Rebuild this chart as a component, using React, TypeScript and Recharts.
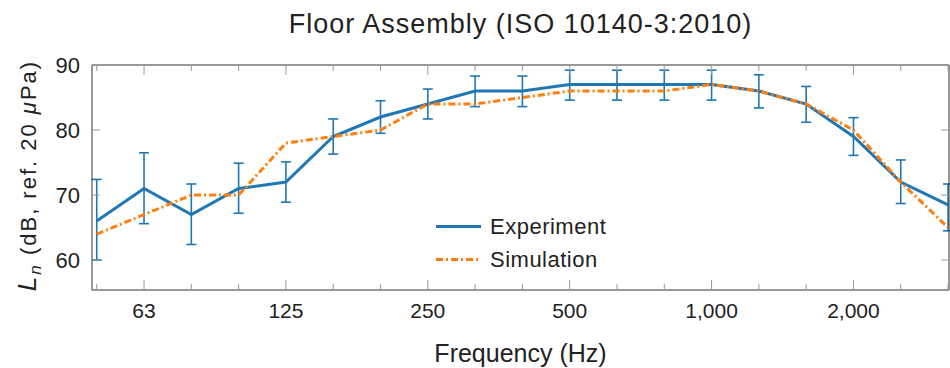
import { LineChart, Line, XAxis, YAxis, ErrorBar, Legend, Label } from "recharts";

// one-third octave bands, 50 Hz .. 3150 Hz (plotted by band index)
const bandLabels = ["50", "63", "80", "100", "125", "160", "200", "250", "315", "400", "500", "630", "800", "1,000", "1,250", "1,600", "2,000", "2,500", "3,150"];
const majorBands = [1, 4, 7, 10, 13, 16];

const experiment = [66, 71, 67, 71, 72, 79, 82, 84, 86, 86, 87, 87, 87, 87, 86, 84, 79, 72, 68.5];
const expLower = [60, 65.6, 62.4, 67.2, 68.9, 76.3, 79.5, 81.7, 83.6, 83.6, 84.6, 84.6, 84.6, 84.6, 83.4, 81.2, 76.1, 68.7, 64.5];
const expUpper = [72.4, 76.5, 71.7, 74.9, 75.1, 81.7, 84.5, 86.3, 88.3, 88.3, 89.2, 89.2, 89.2, 89.2, 88.5, 86.7, 81.9, 75.4, 71.7];
const simulation = [64, 67, 70, 70, 78, 79, 80, 84, 84, 85, 86, 86, 86, 87, 86, 84, 80, 72, 65];
const yTicks = [60, 70, 80, 90];

const data = bandLabels.map((label, i) => ({
  band: i,
  label,
  experiment: experiment[i],
  err: [experiment[i] - expLower[i], expUpper[i] - experiment[i]],
  simulation: simulation[i],
}));

const FONT = "'Liberation Sans', Arial, sans-serif";
const TEXT = "#222";
const FRAME = "#333";
const TICK = "#999";
const BLUE = "#1f77b4";
const ORANGE = "#ff7f0e";
const SIM_DASH = "7 3 2 3";

const bottomTick = (props: any) => {
  const { x, y, payload } = props;
  const major = majorBands.includes(payload.value);
  return (
    <g>
      <line x1={x} x2={x} y1={y} y2={y - (major ? 10 : 6)} stroke={TICK} />
      {major && (
        <text x={x} y={y + 28} textAnchor="middle" fontFamily={FONT} fontSize={21} fill={TEXT}>
          {bandLabels[payload.value]}
        </text>
      )}
    </g>
  );
};

const topTick = (props: any) => {
  const { x, y, payload } = props;
  const major = majorBands.includes(payload.value);
  return <line x1={x} x2={x} y1={y} y2={y + (major ? 10 : 6)} stroke={TICK} />;
};

const leftTick = (props: any) => {
  const { x, y, payload } = props;
  return (
    <g>
      <line x1={x} x2={x + 8} y1={y} y2={y} stroke={TICK} />
      <text x={x - 12} y={y + 8} textAnchor="end" fontFamily={FONT} fontSize={22} fill={TEXT}>
        {payload.value}
      </text>
    </g>
  );
};

const rightTick = (props: any) => {
  const { x, y } = props;
  return <line x1={x} x2={x - 8} y1={y} y2={y} stroke={TICK} />;
};

const renderLegend = () => (
  <div style={{ fontFamily: FONT, fontSize: 22, color: TEXT, textAlign: "left" }}>
    {[
      { name: "Experiment", color: BLUE, dash: undefined },
      { name: "Simulation", color: ORANGE, dash: SIM_DASH },
    ].map((item) => (
      <div key={item.name} style={{ display: "flex", alignItems: "center", height: 33 }}>
        <svg width={47} height={33}>
          <line x1={1} x2={46} y1={16.5} y2={16.5} stroke={item.color} strokeWidth={3} strokeDasharray={item.dash} />
        </svg>
        <span style={{ marginLeft: 8, letterSpacing: 0.5 }}>{item.name}</span>
      </div>
    ))}
  </div>
);

export default function App() {
  return (
    <div style={{ position: "absolute", left: 0, top: 0, background: "#fff" }}>
      <LineChart width={950} height={368} data={data} margin={{ top: 64, right: 0, bottom: 0, left: 0 }}>
        <XAxis
          xAxisId="bottom"
          dataKey="band"
          type="number"
          domain={[-0.1, 18.02]}
          ticks={bandLabels.map((_, i) => i)}
          interval={0}
          tick={bottomTick}
          tickLine={false}
          tickSize={0}
          tickMargin={0}
          height={78}
          axisLine={{ stroke: FRAME }}
        >
          <Label
            content={(p: any) => (
              <text
                x={p.viewBox.x + p.viewBox.width / 2}
                y={p.viewBox.y + 72}
                textAnchor="middle"
                fontFamily={FONT}
                fontSize={25}
                fill={TEXT}
              >
                Frequency (Hz)
              </text>
            )}
          />
        </XAxis>
        <XAxis
          xAxisId="top"
          orientation="top"
          dataKey="band"
          type="number"
          domain={[-0.1, 18.02]}
          ticks={bandLabels.map((_, i) => i)}
          interval={0}
          tick={topTick}
          tickLine={false}
          tickSize={0}
          tickMargin={0}
          height={1}
          axisLine={{ stroke: FRAME }}
        >
          <Label
            content={(p: any) => (
              <text
                x={p.viewBox.x + p.viewBox.width / 2}
                y={33}
                textAnchor="middle"
                fontFamily={FONT}
                fontSize={27}
                letterSpacing={1}
                fill={TEXT}
              >
                Floor Assembly (ISO 10140-3:2010)
              </text>
            )}
          />
        </XAxis>
        <YAxis
          yAxisId="left"
          type="number"
          domain={[55.4, 90]}
          allowDataOverflow
          ticks={yTicks}
          interval={0}
          tick={leftTick}
          tickLine={false}
          tickSize={0}
          tickMargin={0}
          width={92}
          axisLine={{ stroke: FRAME }}
        >
          <Label
            content={(p: any) => {
              const cx = 36;
              const cy = p.viewBox.y + p.viewBox.height / 2 - 2;
              return (
                <text
                  x={cx}
                  y={cy}
                  transform={`rotate(-90, ${cx}, ${cy})`}
                  textAnchor="middle"
                  fontFamily={FONT}
                  fontSize={22}
                  letterSpacing={2}
                  fill={TEXT}
                >
                  <tspan fontStyle="italic" fontSize={26}>L</tspan>
                  <tspan fontStyle="italic" fontSize={17} dy={5}>n</tspan>
                  <tspan dy={-5}> (dB, ref. 20 </tspan>
                  <tspan fontStyle="italic">μ</tspan>
                  <tspan>Pa)</tspan>
                </text>
              );
            }}
          />
        </YAxis>
        <YAxis
          yAxisId="right"
          orientation="right"
          type="number"
          domain={[55.4, 90]}
          allowDataOverflow
          ticks={yTicks}
          interval={0}
          tick={rightTick}
          tickLine={false}
          tickSize={0}
          tickMargin={0}
          width={1}
          axisLine={{ stroke: FRAME }}
        />
        <Legend
          content={renderLegend}
          layout="vertical"
          align="center"
          verticalAlign="middle"
          wrapperStyle={{ position: "absolute", left: 435, top: 210, width: 200 }}
        />
        <Line
          xAxisId="bottom"
          yAxisId="left"
          type="linear"
          dataKey="experiment"
          name="Experiment"
          stroke={BLUE}
          strokeWidth={3}
          dot={false}
          isAnimationActive={false}
        >
          <ErrorBar dataKey="err" direction="y" width={5} stroke={BLUE} strokeWidth={1.6} isAnimationActive={false} />
        </Line>
        <Line
          xAxisId="bottom"
          yAxisId="left"
          type="linear"
          dataKey="simulation"
          name="Simulation"
          stroke={ORANGE}
          strokeWidth={3}
          strokeDasharray={SIM_DASH}
          dot={false}
          isAnimationActive={false}
        />
      </LineChart>
    </div>
  );
}
